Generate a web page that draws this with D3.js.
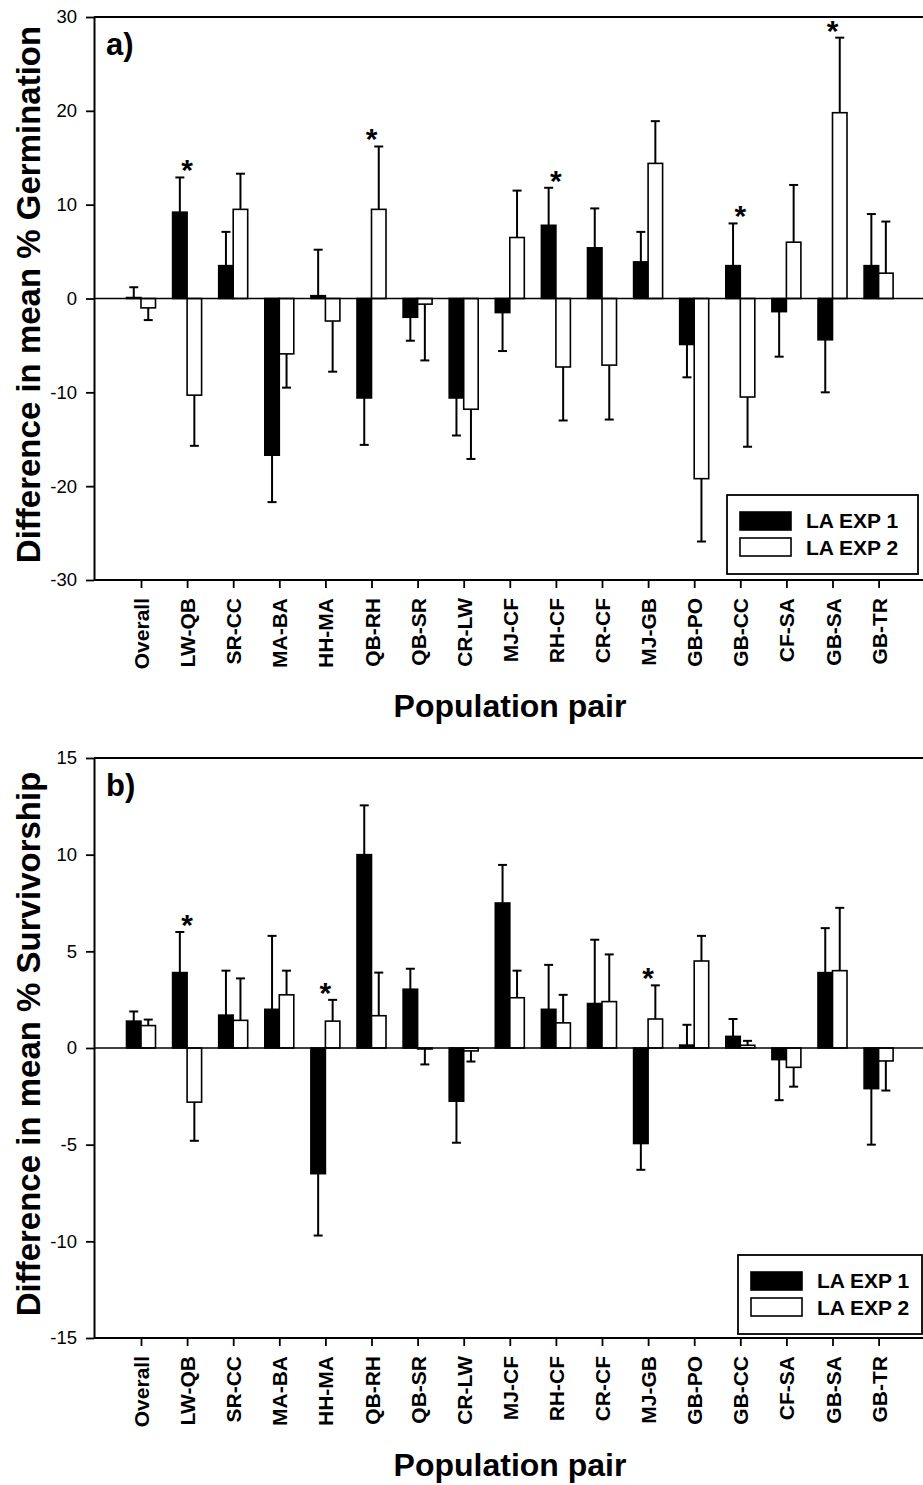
<!DOCTYPE html>
<html>
<head>
<meta charset="utf-8">
<script src="https://cdn.jsdelivr.net/npm/d3@7"></script>
<style>
  html, body { margin: 0; padding: 0; background: #fff; }
  svg { display: block; }
  text { font-family: "Liberation Sans", Arial, Helvetica, sans-serif; fill: #000; }
</style>
</head>
<body>
<script>
// ---------------- DATA ----------------
const categories = ["Overall","LW-QB","SR-CC","MA-BA","HH-MA","QB-RH","QB-SR","CR-LW","MJ-CF","RH-CF","CR-CF","MJ-GB","GB-PO","GB-CC","CF-SA","GB-SA","GB-TR"];
const seriesNames = ["LA EXP 1", "LA EXP 2"];

// Panel a: Difference in mean % Germination
const germExp1    = [0.1, 9.2, 3.5, -16.7, 0.3, -10.6, -2.0, -10.6, -1.5, 7.8, 5.4, 3.9, -4.9, 3.5, -1.4, -4.4, 3.5];
const germExp1Err = [1.1, 3.7, 3.6, 5.0, 4.9, 5.0, 2.5, 4.0, 4.1, 4.0, 4.2, 3.2, 3.5, 4.5, 4.8, 5.6, 5.5];
const germExp2    = [-1.0, -10.3, 9.5, -5.9, -2.4, 9.5, -0.6, -11.8, 6.5, -7.3, -7.1, 14.4, -19.2, -10.5, 6.0, 19.8, 2.7];
const germExp2Err = [1.3, 5.4, 3.8, 3.6, 5.4, 6.7, 6.0, 5.3, 5.0, 5.7, 5.8, 4.5, 6.7, 5.3, 6.1, 8.0, 5.5];
const germStars   = ["LW-QB", "QB-RH", "RH-CF", "GB-CC", "GB-SA"];
const germTicks   = [-30, -20, -10, 0, 10, 20, 30];

// Panel b: Difference in mean % Survivorship
const survExp1    = [1.39, 3.9, 1.7, 2.0, -6.5, 10.0, 3.04, -2.75, 7.5, 2.0, 2.3, -4.94, 0.15, 0.6, -0.6, 3.9, -2.1];
const survExp1Err = [0.5, 2.1, 2.3, 3.8, 3.2, 2.55, 1.06, 2.15, 1.97, 2.3, 3.3, 1.36, 1.05, 0.9, 2.1, 2.3, 2.9];
const survExp2    = [1.16, -2.8, 1.43, 2.75, 1.39, 1.67, -0.05, -0.15, 2.6, 1.3, 2.4, 1.5, 4.5, 0.14, -1.0, 4.0, -0.67];
const survExp2Err = [0.31, 2.0, 2.17, 1.25, 1.1, 2.23, 0.8, 0.55, 1.4, 1.45, 2.44, 1.74, 1.3, 0.23, 1.0, 3.25, 1.53];
const survStars   = ["LW-QB", "HH-MA", "MJ-GB"];
const survTicks   = [-15, -10, -5, 0, 5, 10, 15];

// ---------------- LAYOUT ----------------
const W = 923, H = 1485;
const svg = d3.select("body").append("svg").attr("width", W).attr("height", H);

const FRAME_L = 94, FRAME_R = 923;

function drawPanel(cfg) {
  const g = svg.append("g");
  const y = d3.scaleLinear().domain([cfg.ticks[0], cfg.ticks[cfg.ticks.length - 1]]).range([cfg.bottom, cfg.top]);
  const x0 = d3.scaleBand().domain(categories).range([126.5, 893.1]).paddingInner(0.371).paddingOuter(0);
  const x1 = d3.scaleBand().domain(seriesNames).range([0, x0.bandwidth()]);

  const rows = [];
  categories.forEach((c, i) => {
    rows.push({cat: c, s: seriesNames[0], v: cfg.s1[i], e: cfg.e1[i], fill: "#000"});
    rows.push({cat: c, s: seriesNames[1], v: cfg.s2[i], e: cfg.e2[i], fill: "#fff"});
  });

  // error bars
  const eb = g.append("g").attr("stroke", "#000").attr("stroke-width", 2).attr("fill", "none");
  rows.forEach(r => {
    const cx = x0(r.cat) + x1(r.s) + x1.bandwidth() / 2;
    const sign = r.v >= 0 ? 1 : -1;
    const end = r.v + sign * r.e;
    eb.append("line").attr("x1", cx).attr("x2", cx).attr("y1", y(r.v)).attr("y2", y(end));
    eb.append("line").attr("x1", cx - 4.5).attr("x2", cx + 4.5).attr("y1", y(end)).attr("y2", y(end));
  });

  // bars
  g.append("g").selectAll("rect").data(rows).join("rect")
    .attr("x", d => x0(d.cat) + x1(d.s))
    .attr("width", x1.bandwidth())
    .attr("y", d => y(Math.max(0, d.v)))
    .attr("height", d => Math.abs(y(d.v) - y(0)))
    .attr("fill", d => d.fill)
    .attr("stroke", "#000")
    .attr("stroke-width", 1.6);

  // zero line
  g.append("line").attr("x1", FRAME_L).attr("x2", FRAME_R).attr("y1", y(0)).attr("y2", y(0))
    .attr("stroke", "#000").attr("stroke-width", 1.3);

  // frame: top, bottom
  g.append("line").attr("x1", FRAME_L).attr("x2", FRAME_R).attr("y1", cfg.top).attr("y2", cfg.top)
    .attr("stroke", "#000").attr("stroke-width", 1.8);
  g.append("line").attr("x1", FRAME_L).attr("x2", FRAME_R).attr("y1", cfg.bottom).attr("y2", cfg.bottom)
    .attr("stroke", "#000").attr("stroke-width", 2);

  // y axis
  const ya = g.append("g").attr("transform", `translate(${FRAME_L},0)`)
    .call(d3.axisLeft(y).tickValues(cfg.ticks).tickFormat(d => String(d)).tickSize(8).tickSizeOuter(0).tickPadding(9));
  ya.select(".domain").attr("stroke-width", 2);
  ya.selectAll(".tick line").attr("stroke-width", 1.8);
  ya.selectAll(".tick text").attr("font-size", 18.5).attr("font-family", "Liberation Sans, Arial, sans-serif");

  // x axis
  const xc = d3.scalePoint().domain(categories).range([x0(categories[0]) + x0.bandwidth() / 2, x0(categories[categories.length - 1]) + x0.bandwidth() / 2]);
  const xa = g.append("g").attr("transform", `translate(0,${cfg.bottom})`)
    .call(d3.axisBottom(xc).tickSize(8).tickSizeOuter(0));
  xa.select(".domain").remove();
  xa.selectAll(".tick line").attr("stroke-width", 1.8);
  xa.selectAll(".tick text")
    .attr("font-size", 21).attr("font-weight", "bold").attr("font-family", "Liberation Sans, Arial, sans-serif")
    .attr("transform", "rotate(-90)")
    .attr("text-anchor", "end")
    .attr("x", -18).attr("y", 0).attr("dy", "0.36em");

  // stars
  cfg.stars.forEach(c => {
    const i = categories.indexOf(c);
    const caps = [cfg.s1[i] >= 0 ? cfg.s1[i] + cfg.e1[i] : 0, cfg.s2[i] >= 0 ? cfg.s2[i] + cfg.e2[i] : 0];
    const top = Math.max(...caps);
    g.append("text").attr("x", xc(c)).attr("y", y(top) + 3)
      .attr("text-anchor", "middle").attr("font-size", 30).attr("font-weight", "bold").text("*");
  });

  // panel letter
  g.append("text").attr("x", 106).attr("y", cfg.top + 38).attr("font-size", 31).attr("font-weight", "bold").text(cfg.letter);

  // y title
  g.append("text")
    .attr("transform", `translate(40,${(cfg.top + cfg.bottom) / 2 - 4}) rotate(-90)`)
    .attr("text-anchor", "middle").attr("font-size", 33).attr("font-weight", "bold").text(cfg.yTitle);

  // x title
  g.append("text").attr("x", 510).attr("y", cfg.bottom + cfg.xTitleOff)
    .attr("text-anchor", "middle").attr("font-size", 32).attr("font-weight", "bold").text("Population pair");

  // legend
  const L = cfg.legend;
  const lg = g.append("g");
  lg.append("rect").attr("x", L.x).attr("y", L.y).attr("width", L.w).attr("height", 79)
    .attr("fill", "#fff").attr("stroke", "#000").attr("stroke-width", 1.8);
  seriesNames.forEach((s, k) => {
    lg.append("rect").attr("x", L.x + 13).attr("y", L.y + 17 + k * 26).attr("width", 51).attr("height", 18)
      .attr("fill", k === 0 ? "#000" : "#fff").attr("stroke", "#000").attr("stroke-width", 1.6);
    lg.append("text").attr("x", L.x + 79).attr("y", L.y + 33 + k * 27)
      .attr("font-size", 21).attr("font-weight", "bold").text(s);
  });
}

drawPanel({
  top: 17, bottom: 580, ticks: germTicks,
  s1: germExp1, e1: germExp1Err, s2: germExp2, e2: germExp2Err, stars: germStars,
  letter: "a)", yTitle: "Difference in mean % Germination", xTitleOff: 137,
  legend: {x: 727, y: 495, w: 191}
});

drawPanel({
  top: 758, bottom: 1338, ticks: survTicks,
  s1: survExp1, e1: survExp1Err, s2: survExp2, e2: survExp2Err, stars: survStars,
  letter: "b)", yTitle: "Difference in mean % Survivorship", xTitleOff: 138,
  legend: {x: 738, y: 1255, w: 184}
});
</script>
</body>
</html>
